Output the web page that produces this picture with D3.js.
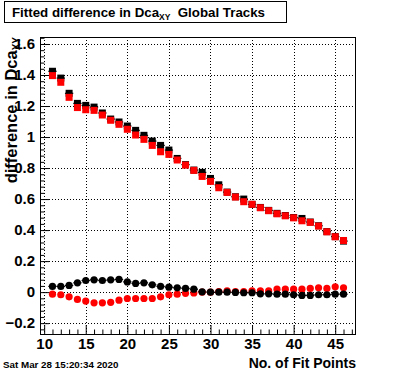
<!DOCTYPE html>
<html lang="en">
<head>
  <meta charset="UTF-8">
  <title>Fitted difference in Dca</title>
  <style>
    body { margin: 0; background: #fff; }
    text { font-family: "Liberation Sans", Arial, sans-serif; font-weight: bold; }
  </style>
</head>
<body>
  <svg width="396" height="372" id="chart"></svg>
  <script src="https://d3js.org/d3.v7.min.js"></script>
  <script>
    // fit points 11..46
    let fitPoints = d3.range(11, 47);

    let blackSquares = [1.424, 1.38, 1.282, 1.217, 1.204, 1.193, 1.155, 1.116, 1.097, 1.071, 1.043, 1.011,
      0.974, 0.946, 0.916, 0.862, 0.822, 0.787, 0.772, 0.733, 0.692, 0.645, 0.615, 0.6,
      0.566, 0.546, 0.527, 0.508, 0.494, 0.481, 0.475, 0.452, 0.428, 0.39, 0.358, 0.329];
    let redSquares = [1.396, 1.353, 1.256, 1.19, 1.176, 1.172, 1.142, 1.108, 1.082, 1.05, 1.013, 0.985,
      0.946, 0.905, 0.888, 0.852, 0.819, 0.785, 0.746, 0.714, 0.673, 0.643, 0.613, 0.583,
      0.566, 0.544, 0.525, 0.505, 0.492, 0.479, 0.46, 0.45, 0.426, 0.389, 0.357, 0.333];
    let blackCircles = [0.037, 0.037, 0.043, 0.06, 0.075, 0.079, 0.075, 0.079, 0.082, 0.066, 0.056, 0.06,
      0.047, 0.037, 0.032, 0.028, 0.024, 0.019, 0.002, 0, 0, 0, -0.002, -0.004,
      -0.004, -0.011, -0.011, -0.013, -0.013, -0.017, -0.021, -0.021, -0.017, -0.017, -0.013, -0.013];
    let redCircles = [-0.013, -0.017, -0.03, -0.047, -0.058, -0.069, -0.069, -0.066, -0.052, -0.041, -0.041, -0.041,
      -0.041, -0.03, -0.017, -0.013, -0.008, -0.005, 0, 0, 0.004, 0.008, 0.004, 0.004,
      0.008, 0.008, 0.008, 0.019, 0.019, 0.019, 0.019, 0.024, 0.028, 0.024, 0.034, 0.028];

    let xTicks = [10, 15, 20, 25, 30, 35, 40, 45];
    let yTicks = [-0.2, 0, 0.2, 0.4, 0.6, 0.8, 1, 1.2, 1.4, 1.6];

    let svg = d3.select('#chart');
    let frameL = 40, frameR = 356, frameT = 37, frameB = 334;

    let x = d3.scaleLinear().domain([9.5, 47.5]).range([frameL, frameR]);
    let y = d3.scaleLinear().domain([-0.27, 1.645]).range([frameB, frameT]);

    // grid
    let grid = svg.append('g').attr('stroke', '#000').attr('stroke-width', 1).attr('stroke-dasharray', '1,2');
    grid.selectAll('.gx').data(xTicks).join('line')
        .attr('x1', d => Math.round(x(d)) + 0.5).attr('x2', d => Math.round(x(d)) + 0.5)
        .attr('y1', frameT).attr('y2', frameB);
    grid.selectAll('.gy').data(yTicks).join('line')
        .attr('y1', d => Math.round(y(d)) + 0.5).attr('y2', d => Math.round(y(d)) + 0.5)
        .attr('x1', frameL).attr('x2', frameR);

    // x axis (ticks pointing up)
    let xAxis = d3.axisBottom(x).tickValues(xTicks).tickSize(-9).tickPadding(4).tickFormat(d3.format('d'));
    svg.append('g').attr('transform', `translate(0,${frameB})`).call(xAxis);
    let xMinor = d3.axisBottom(x).tickValues(d3.range(10, 48).filter(d => d % 5 !== 0)).tickSize(-4.5).tickFormat('');
    svg.append('g').attr('transform', `translate(0,${frameB})`).call(xMinor);

    // y axis (ticks pointing right)
    let yAxis = d3.axisLeft(y).tickValues(yTicks).tickSize(-9).tickPadding(5)
        .tickFormat(d => d === 0 ? '0' : d3.format('.1f')(d).replace('1.0', '1').replace('-', '\u2212'));
    svg.append('g').attr('transform', `translate(${frameL},0)`).call(yAxis);
    let yMinorVals = d3.range(-6, 42).map(i => i * 0.04).filter(d => Math.abs(d * 5 - Math.round(d * 5)) > 1e-6);
    let yMinor = d3.axisLeft(y).tickValues(yMinorVals).tickSize(-4.5).tickFormat('');
    svg.append('g').attr('transform', `translate(${frameL},0)`).call(yMinor);

    svg.selectAll('.tick text').attr('font-size', 15).attr('fill', '#000')
        .style('font-family', '"Liberation Sans", Arial, sans-serif').style('font-weight', 'bold');
    svg.selectAll('.tick line').attr('stroke', '#000');
    svg.selectAll('.domain').remove();

    // frame
    svg.append('rect').attr('x', frameL + 0.5).attr('y', frameT + 0.5)
        .attr('width', frameR - frameL - 1).attr('height', frameB - frameT)
        .attr('fill', 'none').attr('stroke', '#000').attr('stroke-width', 1);

    // data
    let pts = arr => arr.map((v, i) => ({ x: fitPoints[i], v: v }));
    let plot = svg.append('g');

    function errBars(arr, color) {
      plot.append('g').selectAll('line').data(pts(arr)).join('line')
          .attr('x1', d => x(d.x - 0.5)).attr('x2', d => x(d.x + 0.5))
          .attr('y1', d => y(d.v)).attr('y2', d => y(d.v))
          .attr('stroke', color).attr('stroke-width', 1.2);
    }
    function squares(arr, color) {
      plot.append('g').selectAll('rect').data(pts(arr)).join('rect')
          .attr('x', d => x(d.x) - 3.5).attr('y', d => y(d.v) - 3.5)
          .attr('width', 7).attr('height', 7).attr('fill', color);
    }
    function circles(arr, color) {
      plot.append('g').selectAll('circle').data(pts(arr)).join('circle')
          .attr('cx', d => x(d.x)).attr('cy', d => y(d.v)).attr('r', 3.6).attr('fill', color);
    }

    errBars(blackSquares, '#000');
    squares(blackSquares, '#000');
    squares(redSquares, '#ff0000');
    errBars(blackCircles, '#000');
    circles(redCircles, '#ff0000');
    circles(blackCircles, '#000');

    // titles
    svg.append('text').attr('x', frameR).attr('y', 368).attr('text-anchor', 'end')
        .attr('font-size', 14).text('No. of Fit Points');

    let yt = svg.append('text').attr('transform', `translate(17,${frameT}) rotate(-90)`)
        .attr('text-anchor', 'end').attr('font-size', 16.5);
    yt.append('tspan').text('difference in Dca');
    yt.append('tspan').attr('font-size', 10).attr('dy', 3).text('XY');

    // title box
    svg.append('rect').attr('x', 4.5).attr('y', 1.5).attr('width', 282).attr('height', 21)
        .attr('fill', '#fff').attr('stroke', '#000');
    let tt = svg.append('text').attr('x', 12).attr('y', 17).attr('font-size', 13.3);
    tt.append('tspan').text('Fitted difference in Dca');
    tt.append('tspan').attr('font-size', 8.5).attr('dy', 3).text('XY');
    tt.append('tspan').attr('dy', -3).text('\u00a0\u00a0Global Tracks');

    svg.append('text').attr('x', 3).attr('y', 368).attr('font-size', 9.8).text('Sat Mar 28 15:20:34 2020');
  </script>
</body>
</html>
